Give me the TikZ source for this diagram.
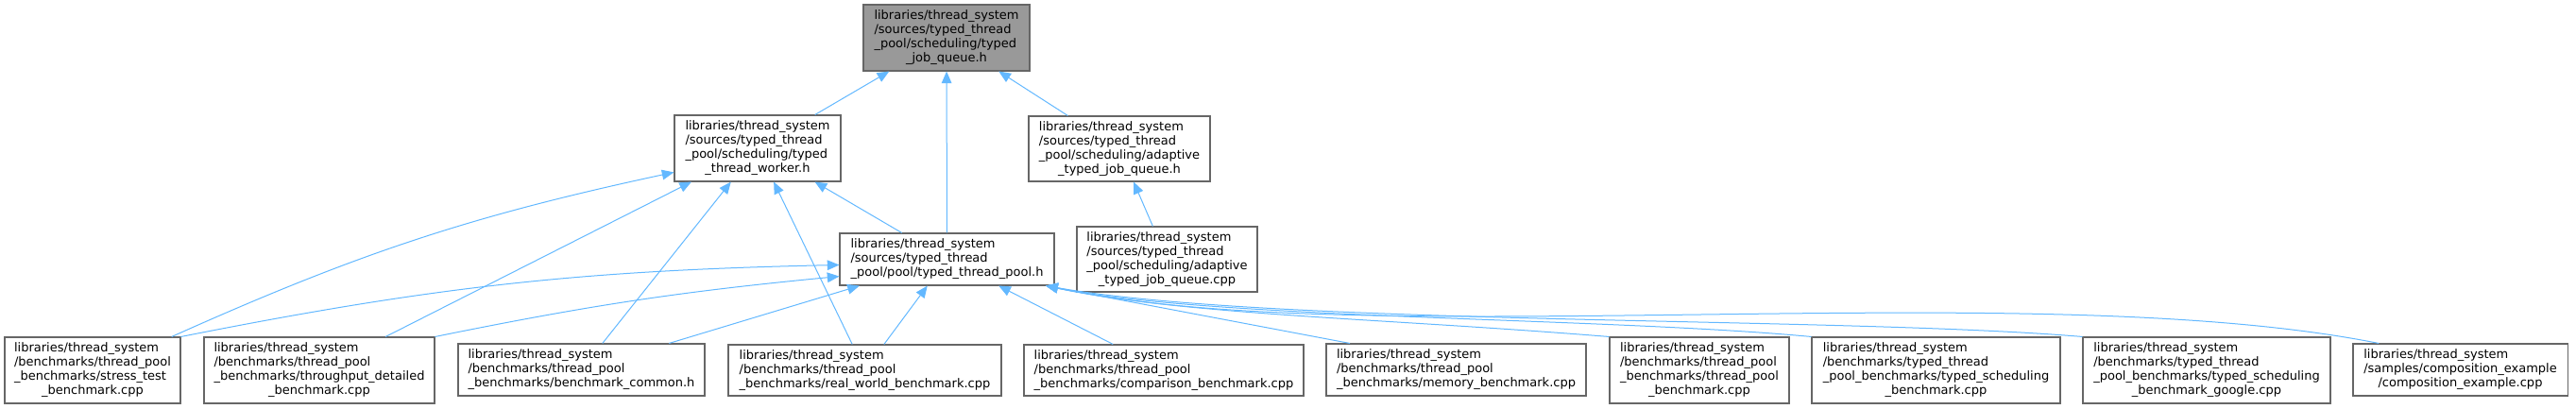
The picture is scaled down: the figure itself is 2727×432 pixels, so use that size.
\documentclass[tikz,border=0pt]{standalone}
\usepackage{fontspec}
\setmainfont{DejaVu Sans}
\usetikzlibrary{arrows.meta}
\definecolor{dxgray}{RGB}{102,102,102}
\definecolor{dxroot}{RGB}{153,153,153}
\definecolor{dxblue}{RGB}{99,184,255}
\newcommand{\incname}[2]{\begin{tabular}{@{}l@{}}#1\\\multicolumn{1}{@{}c@{}}{#2}\end{tabular}}

\begin{document}
\begin{tikzpicture}[x=0.75pt, y=-0.75pt,
  filebox/.style={draw=dxgray, line width=0.8pt, fill=white, inner sep=0pt, font=\fontsize{9.75}{11.25}\selectfont},
  rootbox/.style={filebox, fill=dxroot},
  boxsize/.style 2 args={minimum width=#1*0.75pt, minimum height=#2*0.75pt},
  incl/.style={-{Triangle[length=9.5pt, width=8pt]}, dxblue, line width=0.75pt}]
  \useasboundingbox (0,0) rectangle (2727,432);

  %--- Headers ---
  \node[rootbox, boxsize={176}{70}] (top) at (1002,40) {\incname{libraries/thread\_system\\/sources/typed\_thread\\\_pool/scheduling/typed}{\_job\_queue.h}};

  \node[filebox, boxsize={176}{70}] (worker) at (802,157) {\incname{libraries/thread\_system\\/sources/typed\_thread\\\_pool/scheduling/typed}{\_thread\_worker.h}};
  \node[filebox, boxsize={192}{69}] (adaph) at (1185,157.5) {\incname{libraries/thread\_system\\/sources/typed\_thread\\\_pool/scheduling/adaptive}{\_typed\_job\_queue.h}};

  \node[filebox, boxsize={227}{55}] (pool) at (1002.5,274.5) {\incname{libraries/thread\_system\\/sources/typed\_thread}{\_pool/pool/typed\_thread\_pool.h}};
  \node[filebox, boxsize={191}{69}] (adapcpp) at (1235.5,274.5) {\incname{libraries/thread\_system\\/sources/typed\_thread\\\_pool/scheduling/adaptive}{\_typed\_job\_queue.cpp}};

  %--- Benchmarks and samples ---
  \node[filebox, boxsize={186}{70}] (stress) at (98,392) {\incname{libraries/thread\_system\\/benchmarks/thread\_pool\\\_benchmarks/stress\_test}{\_benchmark.cpp}};
  \node[filebox, boxsize={244}{70}] (through) at (338,392) {\incname{libraries/thread\_system\\/benchmarks/thread\_pool\\\_benchmarks/throughput\_detailed}{\_benchmark.cpp}};
  \node[filebox, boxsize={261}{55}] (common) at (615.5,391.5) {\incname{libraries/thread\_system\\/benchmarks/thread\_pool}{\_benchmarks/benchmark\_common.h}};
  \node[filebox, boxsize={289}{54}] (real) at (915.5,392) {\incname{libraries/thread\_system\\/benchmarks/thread\_pool}{\_benchmarks/real\_world\_benchmark.cpp}};
  \node[filebox, boxsize={296}{54}] (compare) at (1232,392) {\incname{libraries/thread\_system\\/benchmarks/thread\_pool}{\_benchmarks/comparison\_benchmark.cpp}};
  \node[filebox, boxsize={275}{55}] (memory) at (1541.5,391.5) {\incname{libraries/thread\_system\\/benchmarks/thread\_pool}{\_benchmarks/memory\_benchmark.cpp}};
  \node[filebox, boxsize={190}{70}] (tpb) at (1799,392) {\incname{libraries/thread\_system\\/benchmarks/thread\_pool\\\_benchmarks/thread\_pool}{\_benchmark.cpp}};
  \node[filebox, boxsize={263}{70}] (tsb) at (2049.5,392) {\incname{libraries/thread\_system\\/benchmarks/typed\_thread\\\_pool\_benchmarks/typed\_scheduling}{\_benchmark.cpp}};
  \node[filebox, boxsize={262}{70}] (tsg) at (2336,392) {\incname{libraries/thread\_system\\/benchmarks/typed\_thread\\\_pool\_benchmarks/typed\_scheduling}{\_benchmark\_google.cpp}};
  \node[filebox, boxsize={227}{55}] (compex) at (2604.5,391.5) {\incname{libraries/thread\_system\\/samples/composition\_example}{/composition\_example.cpp}};

  % Includes of the root header
  \draw[incl] (worker) -- (top);
  \draw[incl] (pool) -- (top);
  \draw[incl] (adaph) -- (top);
  \draw[incl] (adapcpp) -- (adaph);
  \draw[incl] (pool) -- (worker);

  % Includes of the worker
  \draw[incl] (stress.23) to[bend left=6] (worker.196);
  \draw[incl] (through) -- (worker);
  \draw[incl] (common) -- (worker);
  \draw[incl] (real) -- (worker);

  % Includes of the pool
  \draw[incl] (stress.north east) to[bend left=5] (pool.183);
  \draw[incl] (through.north east) to[bend left=3] (pool.189);
  \draw[incl] (common) -- (pool);
  \draw[incl] (real) -- (pool);
  \draw[incl] (compare) -- (pool);
  \draw[incl] (memory.166) -- (pool.-15);
  \draw[incl] (tpb.north west) .. controls (1450,336) and (1260,334) .. (pool.-15);
  \draw[incl] (tsb.north west) .. controls (1700,336) and (1280,338) .. (pool.-15);
  \draw[incl] (tsg.north west) .. controls (1950,335) and (1350,345) .. (pool.-15);
  \draw[incl] (compex.162) .. controls (2150,290) and (1450,375) .. (pool.-15);
\end{tikzpicture}
\end{document}
